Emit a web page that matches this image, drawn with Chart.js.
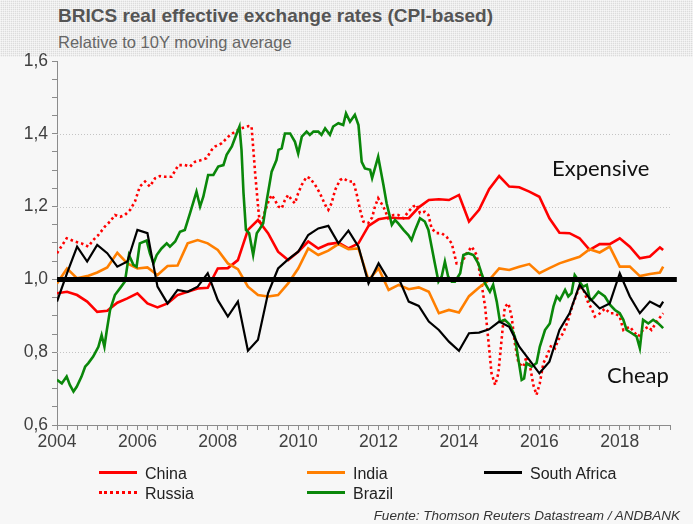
<!DOCTYPE html>
<html>
<head>
<meta charset="utf-8">
<script src="https://cdn.jsdelivr.net/npm/chart.js@4.4.1/dist/chart.umd.min.js"></script>
<style>
   body {
      margin: 0;
      width: 693px;
      height: 524px;
      overflow: hidden;
      position: relative;
      background: #f7f7f7;
      font-family: "Liberation Sans", Arial, sans-serif;
   }
   .header {
      position: absolute;
      left: 0;
      top: 0;
      width: 693px;
      height: 57px;
      background-color: #dcdcdc;
      background-image:
         repeating-linear-gradient(0deg, rgba(255, 255, 255, 0.5) 0 1px, transparent 1px 2px),
         repeating-linear-gradient(90deg, rgba(255, 255, 255, 0.5) 0 1px, transparent 1px 2px);
   }
   .title {
      position: absolute;
      left: 58px;
      top: 5px;
      font-size: 19px;
      font-weight: bold;
      color: #555;
      white-space: nowrap;
   }
   .subtitle {
      position: absolute;
      left: 58px;
      top: 33px;
      font-size: 16.5px;
      color: #666;
      white-space: nowrap;
   }
   canvas {
      position: absolute;
      left: 0;
      top: 0;
   }
   .note {
      position: absolute;
      font-family: Lato, "Open Sans", sans-serif;
      font-size: 22px;
      color: #111;
      white-space: nowrap;
   }
   .legend-item {
      position: absolute;
      font-size: 16px;
      color: #222;
      white-space: nowrap;
      line-height: 18px;
   }
   .legend-item span {
      display: inline-block;
      width: 38px;
      height: 0;
      border-top: 3px solid;
      vertical-align: middle;
      margin-right: 8px;
      position: relative;
      top: -2px;
   }
   .source {
      position: absolute;
      right: 13px;
      top: 508px;
      font-size: 13.5px;
      font-style: italic;
      color: #333;
      white-space: nowrap;
   }
</style>
</head>
<body>
<div class="header"></div>
<div class="title">BRICS real effective exchange rates (CPI-based)</div>
<div class="subtitle">Relative to 10Y moving average</div>
<canvas id="myChart" width="693" height="524"></canvas>
<div class="note" style="left:552px; top:154px;">Expensive</div>
<div class="note" style="left:607px; top:361px;">Cheap</div>

<div class="legend-item" style="left:99px; top:465px;"><span style="border-color:#ff0000"></span>China</div>
<div class="legend-item" style="left:307px; top:465px;"><span style="border-color:#ff7f00"></span>India</div>
<div class="legend-item" style="left:484px; top:465px;"><span style="border-color:#000"></span>South Africa</div>
<div class="legend-item" style="left:99px; top:485px;"><span style="border-top:3px dotted #ff0000"></span>Russia</div>
<div class="legend-item" style="left:307px; top:485px;"><span style="border-color:#0a870a"></span>Brazil</div>
<div class="source">Fuente: Thomson Reuters Datastream / ANDBANK</div>

<script>
// quarterly dates for china, india, south africa
let quarters = [];
for (let q = 0; q <= 60; q++) quarters.push(2004 + q / 4);
quarters.push(2019.08);

let china = [
   0.962, 0.966, 0.957, 0.939, 0.911, 0.914, 0.936, 0.948,
   0.962, 0.934, 0.923, 0.934, 0.957, 0.966, 0.975, 0.977,
   1.030, 1.031, 1.053, 1.136, 1.163, 1.127, 1.076, 1.053,
   1.076, 1.104, 1.085, 1.097, 1.101, 1.085, 1.099, 1.147,
   1.165, 1.170, 1.168, 1.168, 1.198, 1.218, 1.220, 1.218,
   1.232, 1.159, 1.191, 1.248, 1.284, 1.255, 1.253, 1.241,
   1.227, 1.168, 1.128, 1.127, 1.113, 1.081, 1.097, 1.097,
   1.113, 1.090, 1.058, 1.063, 1.088, 1.081
];

let india = [
   0.989, 1.030, 1.003, 1.009, 1.019, 1.033, 1.073, 1.044,
   1.030, 1.033, 1.012, 1.037, 1.038, 1.099, 1.108, 1.099,
   1.081, 1.044, 1.028, 0.980, 0.957, 0.953, 0.957, 0.989,
   1.030, 1.085, 1.067, 1.079, 1.097, 1.083, 1.085, 0.998,
   1.030, 0.971, 0.985, 0.973, 0.978, 0.966, 0.907, 0.916,
   0.909, 0.954, 0.978, 0.998, 1.030, 1.026, 1.035, 1.042,
   1.017, 1.031, 1.044, 1.053, 1.062, 1.083, 1.074, 1.090,
   1.035, 1.035, 1.009, 1.015, 1.019, 1.035
];

let southAfrica = [
   0.939, 1.017, 1.090, 1.049, 1.095, 1.072, 1.035, 1.049,
   1.136, 1.127, 0.980, 0.934, 0.971, 0.966, 0.980, 1.017,
   0.943, 0.898, 0.939, 0.804, 0.834, 0.962, 1.030, 1.055,
   1.076, 1.122, 1.140, 1.147, 1.099, 1.134, 1.090, 0.989,
   1.044, 0.998, 1.003, 0.939, 0.927, 0.884, 0.861, 0.829,
   0.804, 0.852, 0.854, 0.863, 0.884, 0.870, 0.815, 0.779,
   0.742, 0.774, 0.861, 0.907, 0.985, 0.948, 0.920, 0.934,
   1.017, 0.953, 0.907, 0.939, 0.925, 0.939
];

// russia and brazil move fast, so they get their own dates
let russiaDates = [
   2004.00, 2004.24, 2004.45, 2004.61, 2004.78, 2004.90, 2005.03, 2005.19, 2005.32, 2005.44,
   2005.57, 2005.69, 2005.82, 2005.94, 2006.06, 2006.19, 2006.31, 2006.44, 2006.56, 2006.69,
   2006.85, 2007.02, 2007.18, 2007.31, 2007.43, 2007.60, 2007.72, 2007.85, 2007.93, 2008.10,
   2008.26, 2008.43, 2008.59, 2008.76, 2008.84, 2008.93, 2009.01, 2009.05, 2009.09, 2009.17,
   2009.26, 2009.34, 2009.42, 2009.51, 2009.59, 2009.67, 2009.75, 2009.84, 2009.92, 2010.00,
   2010.09, 2010.21, 2010.29, 2010.42, 2010.54, 2010.67, 2010.75, 2010.83, 2010.92, 2011.04,
   2011.12, 2011.25, 2011.37, 2011.45, 2011.54, 2011.62, 2011.74, 2011.84, 2011.91, 2011.99,
   2012.12, 2012.24, 2012.37, 2012.49, 2012.62, 2012.74, 2012.86, 2012.95, 2013.03, 2013.15,
   2013.24, 2013.32, 2013.44, 2013.57, 2013.69, 2013.82, 2013.94, 2014.07, 2014.19, 2014.32,
   2014.44, 2014.52, 2014.65, 2014.73, 2014.81, 2014.90, 2014.98, 2015.06, 2015.14, 2015.23,
   2015.31, 2015.39, 2015.48, 2015.60, 2015.68, 2015.77, 2015.85, 2015.93, 2016.01, 2016.10,
   2016.18, 2016.30, 2016.39, 2016.47, 2016.59, 2016.72, 2016.84, 2016.97, 2017.05, 2017.13,
   2017.22, 2017.30, 2017.38, 2017.51, 2017.63, 2017.76, 2017.88, 2018.00, 2018.09, 2018.25,
   2018.38, 2018.46, 2018.58, 2018.71, 2018.79, 2018.92, 2019.08
];
let russia = [
   1.072, 1.113, 1.104, 1.099, 1.090, 1.108, 1.122, 1.145, 1.159, 1.177,
   1.172, 1.177, 1.191, 1.214, 1.255, 1.269, 1.255, 1.278, 1.284, 1.282,
   1.282, 1.314, 1.314, 1.310, 1.323, 1.328, 1.333, 1.356, 1.365, 1.374,
   1.392, 1.406, 1.415, 1.421, 1.420, 1.291, 1.191, 1.150, 1.154, 1.186,
   1.214, 1.232, 1.218, 1.200, 1.195, 1.218, 1.232, 1.218, 1.209, 1.237,
   1.260, 1.282, 1.278, 1.260, 1.237, 1.205, 1.191, 1.209, 1.246, 1.273,
   1.278, 1.269, 1.269, 1.237, 1.191, 1.159, 1.154, 1.170, 1.200, 1.223,
   1.200, 1.168, 1.177, 1.177, 1.168, 1.186, 1.200, 1.205, 1.182, 1.186,
   1.177, 1.140, 1.127, 1.127, 1.117, 1.099, 1.044, 1.044, 1.072, 1.090,
   1.067, 1.017, 0.925, 0.834, 0.742, 0.710, 0.742, 0.834, 0.925, 0.934,
   0.898, 0.824, 0.770, 0.760, 0.788, 0.760, 0.710, 0.683, 0.714, 0.770,
   0.788, 0.820, 0.811, 0.834, 0.852, 0.889, 0.934, 0.971, 0.985, 0.962,
   0.934, 0.920, 0.898, 0.907, 0.920, 0.907, 0.907, 0.898, 0.861, 0.870,
   0.852, 0.843, 0.861, 0.870, 0.861, 0.884, 0.907
];

let brazilDates = [
   2004.00, 2004.12, 2004.24, 2004.32, 2004.41, 2004.49, 2004.61, 2004.70, 2004.78, 2004.90,
   2005.03, 2005.11, 2005.18, 2005.24, 2005.32, 2005.44, 2005.57, 2005.69, 2005.79, 2005.90,
   2005.98, 2006.06, 2006.23, 2006.31, 2006.40, 2006.48, 2006.60, 2006.73, 2006.81, 2006.94,
   2007.06, 2007.18, 2007.31, 2007.47, 2007.56, 2007.64, 2007.76, 2007.89, 2008.01, 2008.14,
   2008.22, 2008.35, 2008.47, 2008.54, 2008.59, 2008.64, 2008.70, 2008.78, 2008.88, 2008.97,
   2009.05, 2009.13, 2009.22, 2009.34, 2009.46, 2009.51, 2009.59, 2009.67, 2009.80, 2009.92,
   2010.00, 2010.09, 2010.21, 2010.29, 2010.38, 2010.50, 2010.58, 2010.67, 2010.79, 2010.87,
   2011.00, 2011.12, 2011.19, 2011.29, 2011.41, 2011.50, 2011.58, 2011.66, 2011.79, 2011.84,
   2011.99, 2012.12, 2012.20, 2012.33, 2012.41, 2012.49, 2012.62, 2012.74, 2012.82, 2012.91,
   2013.03, 2013.15, 2013.24, 2013.32, 2013.40, 2013.49, 2013.57, 2013.65, 2013.73, 2013.82,
   2013.90, 2014.03, 2014.11, 2014.23, 2014.36, 2014.48, 2014.56, 2014.65, 2014.77, 2014.85,
   2014.94, 2015.02, 2015.14, 2015.27, 2015.39, 2015.48, 2015.56, 2015.62, 2015.68, 2015.81,
   2015.93, 2016.01, 2016.14, 2016.26, 2016.35, 2016.43, 2016.51, 2016.64, 2016.72, 2016.80,
   2016.88, 2016.97, 2017.09, 2017.18, 2017.26, 2017.34, 2017.47, 2017.63, 2017.76, 2017.88,
   2018.00, 2018.09, 2018.17, 2018.30, 2018.42, 2018.50, 2018.58, 2018.71, 2018.83, 2018.96,
   2019.08
];
let brazil = [
   0.724, 0.714, 0.733, 0.710, 0.692, 0.705, 0.733, 0.760, 0.770, 0.788,
   0.815, 0.847, 0.815, 0.861, 0.916, 0.957, 0.976, 0.994, 1.067, 1.040,
   1.035, 1.099, 1.107, 1.072, 1.044, 1.067, 1.085, 1.099, 1.090, 1.104,
   1.131, 1.136, 1.182, 1.241, 1.200, 1.227, 1.287, 1.287, 1.310, 1.314,
   1.342, 1.365, 1.401, 1.420, 1.356, 1.237, 1.136, 1.127, 1.067, 1.127,
   1.140, 1.154, 1.218, 1.296, 1.328, 1.356, 1.360, 1.401, 1.401, 1.378,
   1.346, 1.392, 1.406, 1.397, 1.406, 1.406, 1.397, 1.415, 1.397, 1.420,
   1.429, 1.424, 1.456, 1.433, 1.452, 1.424, 1.323, 1.305, 1.301, 1.278,
   1.337, 1.260, 1.209, 1.150, 1.163, 1.154, 1.136, 1.122, 1.108, 1.136,
   1.168, 1.159, 1.136, 1.090, 1.044, 0.994, 1.008, 1.049, 1.008, 0.994,
   0.994, 1.017, 1.067, 1.072, 1.067, 1.044, 1.017, 0.989, 0.966, 0.985,
   0.939, 0.884, 0.889, 0.875, 0.843, 0.779, 0.724, 0.728, 0.770, 0.760,
   0.770, 0.815, 0.861, 0.879, 0.925, 0.953, 0.943, 0.971, 0.953, 0.962,
   1.012, 0.998, 0.980, 0.985, 0.943, 0.948, 0.966, 0.953, 0.930, 0.916,
   0.907, 0.889, 0.861, 0.852, 0.843, 0.811, 0.889, 0.879, 0.889, 0.879,
   0.866
];

let yTickLabels = [0.6, 0.8, 1.0, 1.2, 1.4, 1.6];
let xTickLabels = [2004, 2006, 2008, 2010, 2012, 2014, 2016, 2018];
let gridValues = [0.8, 1.2, 1.4];
let parityValue = 1.0;
let parityEnd = 2019.42;

function toPoints(dates, values) {
   return values.map((v, i) => ({ x: dates[i], y: v }));
}

// dotted grid lines and the thick line at 1,0
let refLines = {
   id: "refLines",
   beforeDatasetsDraw(chart) {
      let { ctx, chartArea, scales } = chart;
      ctx.save();
      ctx.strokeStyle = "#c4c4c4";
      ctx.lineWidth = 1;
      ctx.setLineDash([1, 2]);
      gridValues.forEach((v) => {
         let py = Math.round(scales.y.getPixelForValue(v)) + 0.5;
         ctx.beginPath();
         ctx.moveTo(chartArea.left, py);
         ctx.lineTo(chartArea.right, py);
         ctx.stroke();
      });
      ctx.restore();
   },
   afterDatasetsDraw(chart) {
      let { ctx, chartArea, scales } = chart;
      let py = scales.y.getPixelForValue(parityValue);
      ctx.save();
      ctx.strokeStyle = "#000";
      ctx.lineWidth = 5;
      ctx.beginPath();
      ctx.moveTo(chartArea.left, py);
      ctx.lineTo(scales.x.getPixelForValue(parityEnd), py);
      ctx.stroke();
      ctx.restore();
   },
};

Chart.defaults.font.family = '"Liberation Sans", Arial, sans-serif';
Chart.defaults.font.size = 17.5;
Chart.defaults.color = "#404040";

new Chart("myChart", {
   type: "line",
   data: {
      datasets: [
         { label: "South Africa", data: toPoints(quarters, southAfrica), borderColor: "#000000", borderWidth: 2.2 },
         { label: "Brazil", data: toPoints(brazilDates, brazil), borderColor: "#0a870a", borderWidth: 2.6 },
         { label: "India", data: toPoints(quarters, india), borderColor: "#ff7f00", borderWidth: 2.6 },
         { label: "China", data: toPoints(quarters, china), borderColor: "#ff0000", borderWidth: 2.6 },
         { label: "Russia", data: toPoints(russiaDates, russia), borderColor: "#ff0000", borderWidth: 2.6, borderDash: [2.5, 3] },
      ],
   },
   options: {
      responsive: false,
      animation: false,
      elements: {
         point: { radius: 0 },
         line: { tension: 0, fill: false },
      },
      layout: {
         padding: { left: 10, top: 61, right: 23, bottom: 69 },
      },
      plugins: {
         legend: { display: false },
         title: { display: false },
         tooltip: { enabled: false },
      },
      scales: {
         x: {
            type: "linear",
            min: 2004,
            max: 2019.25,
            afterFit: (scale) => { scale.height = 30; },
            border: { color: "#8c8c8c", width: 1 },
            grid: { drawOnChartArea: false, drawTicks: true, tickLength: 5, color: "#8c8c8c" },
            ticks: {
               stepSize: 0.25,
               autoSkip: false,
               maxRotation: 0,
               padding: 2,
               callback: (v) => (xTickLabels.includes(v) ? String(v) : ""),
            },
         },
         y: {
            min: 0.6,
            max: 1.6,
            afterFit: (scale) => { scale.width = 47; },
            border: { color: "#8c8c8c", width: 1 },
            grid: { drawOnChartArea: false, drawTicks: true, tickLength: 5, color: "#8c8c8c" },
            ticks: {
               stepSize: 0.05,
               autoSkip: false,
               padding: 4,
               callback: (v) => {
                  let hit = yTickLabels.find((t) => Math.abs(t - v) < 1e-6);
                  return hit === undefined ? "" : hit.toFixed(1).replace(".", ",");
               },
            },
         },
      },
   },
   plugins: [refLines],
});
</script>
</body>
</html>
